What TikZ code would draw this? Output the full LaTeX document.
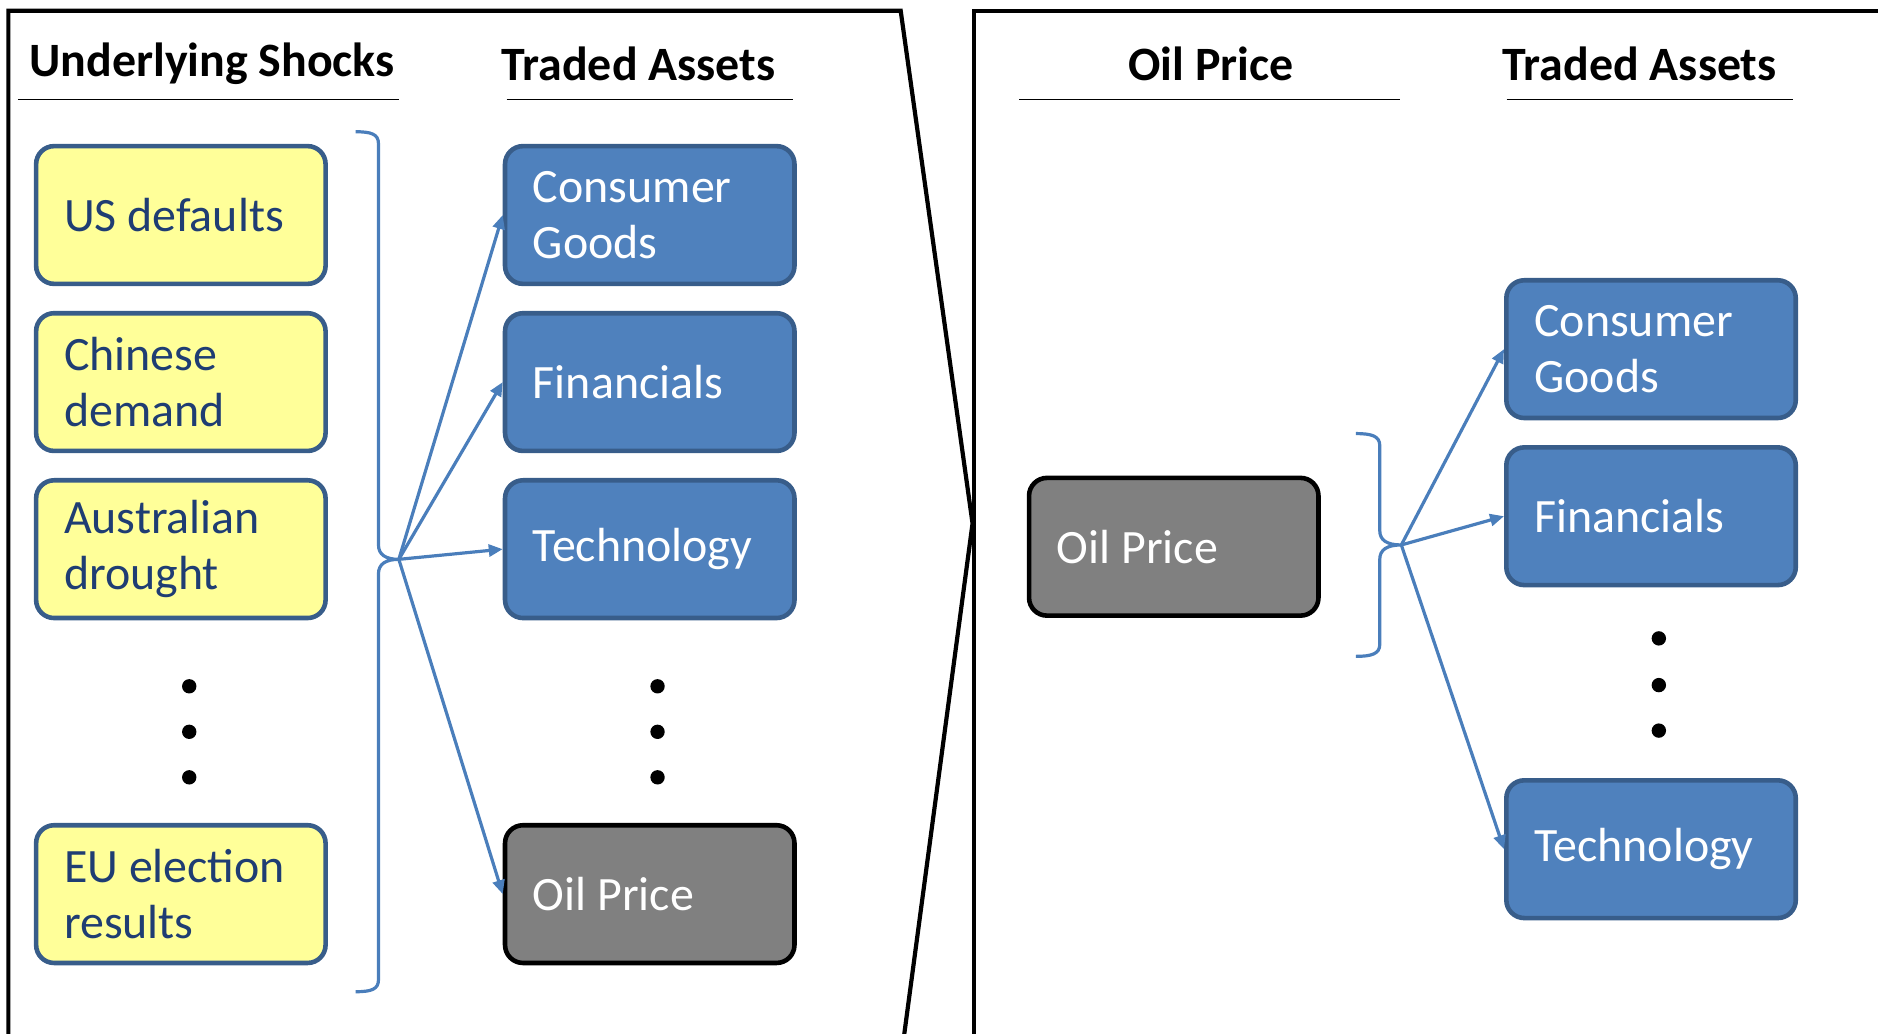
\documentclass[tikz,border=0pt]{standalone}
\usepackage{fontspec}
\setmainfont{Carlito}
\usetikzlibrary{arrows.meta}
\definecolor{shockfill}{HTML}{FFFF99}
\definecolor{boxline}{HTML}{385D8A}
\definecolor{shocktext}{HTML}{1F3D73}
\definecolor{assetfill}{HTML}{4F81BD}
\definecolor{linkblue}{HTML}{4A7EBB}
\definecolor{oilfill}{HTML}{808080}
\begin{document}
\begin{tikzpicture}[x=0.6pt,y=-0.6pt,
    box/.style={rounded corners=9pt, line width=2.3pt, minimum width=145pt, minimum height=69pt,
      inner xsep=14pt, text width=117pt, align=left, font=\fontsize{24}{28.2}\selectfont,
      execute at begin node={\spaceskip=\fontdimen2\font\relax}},
    shock/.style={box, draw=boxline, fill=shockfill, text=shocktext},
    asset/.style={box, draw=boxline, fill=assetfill, text=white},
    oil/.style={box, draw=black, fill=oilfill, text=white},
    heading/.style={font=\fontsize{24}{28}\selectfont\bfseries},
    panel/.style={line width=2.1pt, line join=miter},
    headrule/.style={line width=0.9pt},
    brace/.style={draw=linkblue, line width=1.6pt},
    link/.style={draw=linkblue, line width=1.6pt, -{Triangle[length=7pt,width=6pt]}}]
  \useasboundingbox (0,0) rectangle (1568,863.3);
  % panels
  \draw[panel] (7,863.3) -- (7,9) -- (752,9) -- (812,437) -- (755,863.3);
  \draw[panel] (813,863.3) -- (813,9) -- (1568,9);
  % headings
  \node[heading] (hshocks) at (177,53.5) {Underlying Shocks};
  \node[heading] (hassets) at (533,53.5) {Traded Assets};
  \node[heading] (hoil) at (1011,53.5) {Oil Price};
  \node[heading] (hassetsr) at (1369,53.5) {Traded Assets};
  \draw[headrule] (15,83) -- (333,83);
  \draw[headrule] (423,83) -- (662,83);
  \draw[headrule] (851,83) -- (1169,83);
  \draw[headrule] (1258,83) -- (1497,83);
  % left panel: shocks
  \node[shock] (us) at (151,179.5) {US defaults};
  \node[shock] (china) at (151,319) {Chinese\\demand};
  \node[shock] (drought) at (151,458.5) {Australian\\drought};
  \node[shock] (eu) at (151,746.5) {EU election\\results};
  % left panel: assets
  \node[asset] (goods) at (542.5,179.5) {Consumer\\Goods};
  \node[asset] (fin) at (542.5,319) {Financials};
  \node[asset] (tech) at (542.5,458.5) {Technology};
  \node[oil] (oil) at (542.5,746.5) {Oil Price};
  \foreach \x in {158,549}
    \foreach \y in {573,611,649}
      \fill (\x,\y) circle (3.6pt);
  % brace gathering the shocks
  \draw[brace] (297,110) .. controls (310,110) and (316,112) .. (316,120) -- (316,455)
    .. controls (316,463) and (322,467) .. (333,467) coordinate (tipl)
    .. controls (322,467) and (316,471) .. (316,479) -- (316,818)
    .. controls (316,826) and (310,828) .. (297,828);
  \foreach \n in {goods,fin,tech,oil}
    \draw[link] (tipl) -- (\n.west);
  % right panel
  \node[oil] (oilr) at (980,456.5) {Oil Price};
  \node[asset] (goodsr) at (1378.5,291.5) {Consumer\\Goods};
  \node[asset] (finr) at (1378.5,431) {Financials};
  \node[asset] (techr) at (1378.5,709) {Technology};
  \foreach \y in {533,572,610}
    \fill (1385,\y) circle (3.6pt);
  \draw[brace] (1132,362) .. controls (1145,362) and (1152,364) .. (1152,372) -- (1152,443)
    .. controls (1152,451) and (1158,455) .. (1170,455) coordinate (tipr)
    .. controls (1158,455) and (1152,459) .. (1152,467) -- (1152,538)
    .. controls (1152,546) and (1145,548) .. (1132,548);
  \foreach \n in {goodsr,finr,techr}
    \draw[link] (tipr) -- (\n.west);
\end{tikzpicture}
\end{document}
